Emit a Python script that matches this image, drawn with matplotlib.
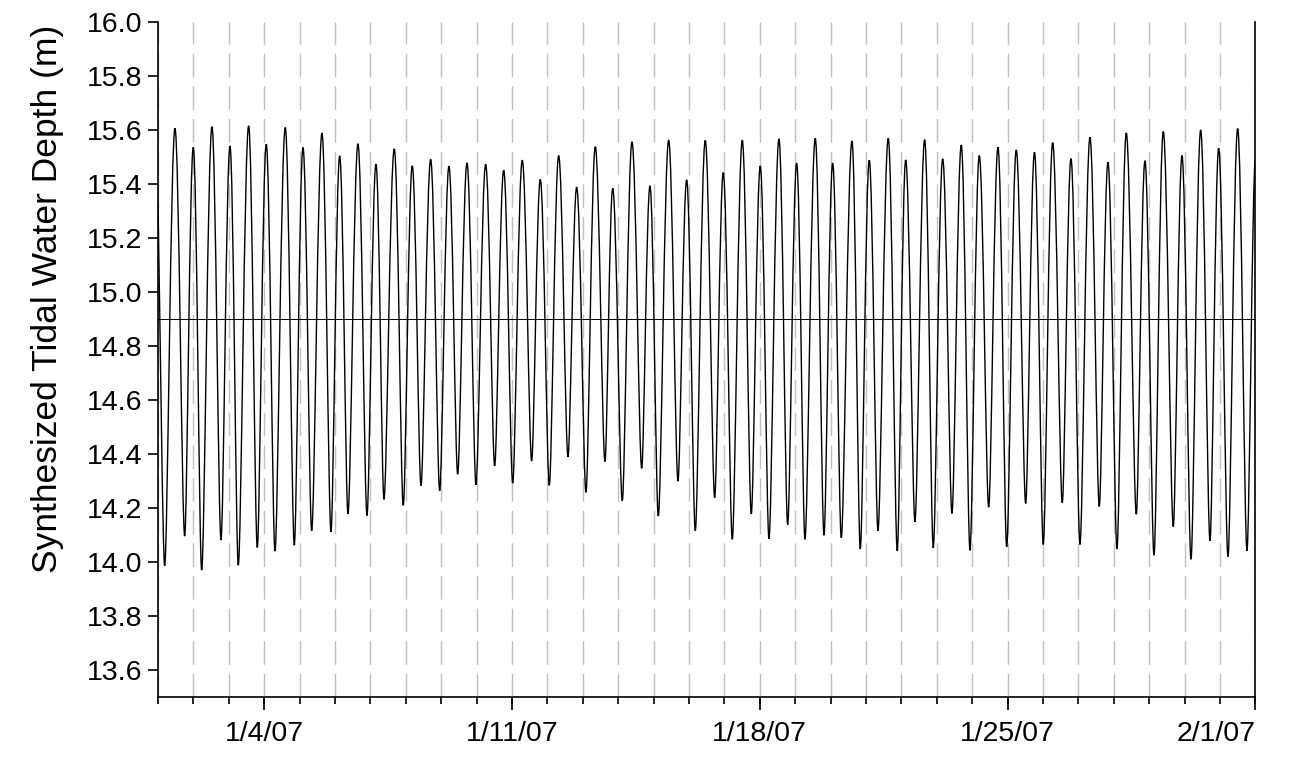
import datetime as dt
import matplotlib
matplotlib.use("Agg")
import matplotlib.pyplot as plt
import matplotlib.dates as mdates
from matplotlib.path import Path
from matplotlib.patches import PathPatch
from matplotlib.ticker import FuncFormatter, FixedLocator

plt.rcParams['font.family'] = ['Liberation Sans', 'DejaVu Sans']

# days since 1/1/07 00:00 and depth (m)
start = dt.datetime(2007, 1, 1)
n_days = 31
start_m = 15.33
end_m = 15.49
mean_depth = 14.9

peak_day = [0.480, 0.997, 1.525, 2.034, 2.562, 3.059, 3.596, 4.096, 4.633, 5.133,
            5.650, 6.158, 6.675, 7.183, 7.703, 8.220, 8.729, 9.257, 9.766, 10.291,
            10.800, 11.319, 11.828, 12.353, 12.845, 13.390, 13.898, 14.427, 14.935, 15.460,
            15.969, 16.506, 17.014, 17.542, 18.042, 18.568, 19.059, 19.605, 20.093, 20.630,
            21.122, 21.658, 22.167, 22.692, 23.201, 23.729, 24.246, 24.760, 25.274, 25.791,
            26.328, 26.836, 27.353, 27.881, 28.398, 28.927, 29.455, 29.963, 30.500]
peak_m = [15.606, 15.536, 15.612, 15.541, 15.615, 15.547, 15.609, 15.535, 15.588, 15.504,
          15.549, 15.474, 15.530, 15.467, 15.491, 15.466, 15.478, 15.473, 15.451, 15.488,
          15.417, 15.505, 15.388, 15.538, 15.384, 15.556, 15.393, 15.562, 15.415, 15.561,
          15.442, 15.562, 15.467, 15.567, 15.477, 15.569, 15.477, 15.559, 15.488, 15.569,
          15.489, 15.564, 15.493, 15.544, 15.505, 15.536, 15.526, 15.517, 15.553, 15.494,
          15.573, 15.481, 15.589, 15.486, 15.594, 15.505, 15.600, 15.532, 15.605]

trough_day = [0.189, 0.754, 1.234, 1.780, 2.268, 2.805, 3.305, 3.851, 4.342, 4.887,
              5.367, 5.904, 6.384, 6.929, 7.429, 7.958, 8.466, 8.983, 9.511, 10.020,
              10.556, 11.054, 11.582, 12.090, 12.627, 13.116, 13.664, 14.133, 14.689, 15.178,
              15.726, 16.223, 16.760, 17.260, 17.788, 18.277, 18.814, 19.302, 19.839, 20.339,
              20.884, 21.384, 21.901, 22.429, 22.938, 23.466, 23.975, 24.511, 25.008, 25.545,
              26.045, 26.590, 27.090, 27.636, 28.136, 28.681, 29.181, 29.718, 30.226, 30.763]
trough_m = [13.986, 14.096, 13.970, 14.081, 13.988, 14.054, 14.040, 14.062, 14.116, 14.112,
            14.178, 14.172, 14.232, 14.210, 14.283, 14.264, 14.325, 14.286, 14.356, 14.292,
            14.374, 14.284, 14.390, 14.258, 14.372, 14.227, 14.347, 14.170, 14.299, 14.116,
            14.238, 14.084, 14.178, 14.086, 14.138, 14.084, 14.099, 14.090, 14.048, 14.116,
            14.041, 14.149, 14.052, 14.180, 14.043, 14.203, 14.056, 14.217, 14.065, 14.219,
            14.065, 14.206, 14.048, 14.177, 14.025, 14.131, 14.010, 14.079, 14.020, 14.042]

tick_dates = [dt.datetime(2007, 1, 4), dt.datetime(2007, 1, 11), dt.datetime(2007, 1, 18),
              dt.datetime(2007, 1, 25), dt.datetime(2007, 2, 1)]
y_ticks = [13.6, 13.8, 14.0, 14.2, 14.4, 14.6, 14.8, 15.0, 15.2, 15.4, 15.6, 15.8, 16.0]

t0 = mdates.date2num(start)

# high/low waters in time order, joined by smooth bezier segments
events = [(0.0, start_m, "start")]
events += [(d, v, "peak") for d, v in zip(peak_day, peak_m)]
events += [(d, v, "trough") for d, v in zip(trough_day, trough_m)]
events += [(float(n_days), end_m, "end")]
events.sort(key=lambda e: e[0])

k = {"peak": 0.40, "trough": 0.28, "start": 0.30, "end": 0.35}
verts = [(t0 + events[0][0], events[0][1])]
codes = [Path.MOVETO]
for (d0, v0, s0), (d1, v1, s1) in zip(events[:-1], events[1:]):
    dx = d1 - d0
    c1y = v0 + 0.3 * (v1 - v0) if s0 == "start" else v0
    verts += [(t0 + d0 + k[s0] * dx, c1y), (t0 + d1 - k[s1] * dx, v1), (t0 + d1, v1)]
    codes += [Path.CURVE4] * 3

fig = plt.figure(figsize=(12.97, 7.6), dpi=100)
ax = fig.add_axes([0.1218, 0.0829, 0.8461, 0.8882])

ax.add_patch(PathPatch(Path(verts, codes), fill=False, edgecolor="black", lw=1.0, zorder=3))
ax.axhline(mean_depth, color="black", lw=0.7, zorder=2)

ax.set_xlim(t0, t0 + n_days)
ax.set_ylim(13.5, 16.0)

ax.xaxis.set_major_locator(FixedLocator([mdates.date2num(d) for d in tick_dates]))
ax.xaxis.set_minor_locator(mdates.DayLocator())
ax.xaxis.remove_overlapping_locs = False


def fmt_date(v, pos):
    d = mdates.num2date(v)
    return f"{d.month}/{d.day}/{d:%y}"


ax.xaxis.set_major_formatter(FuncFormatter(fmt_date))
ax.set_yticks(y_ticks)
ax.yaxis.set_major_formatter(FuncFormatter(lambda v, p: f"{v:.1f}"))

ax.grid(True, which="minor", axis="x", color="#c0c0c0", lw=1.0,
        linestyle=(0, (17, 6.5)), zorder=1)

ax.tick_params(axis="x", which="major", length=9, width=1.2, pad=8, labelsize=20.5)
ax.tick_params(axis="x", which="minor", length=5, width=1.2)
ax.tick_params(axis="y", length=7, width=1.2, pad=4, labelsize=20.5)

# keep the last date label inside the figure, like the original
labels = ax.get_xticklabels()
labels[-1].set_horizontalalignment("right")

for s in ["left", "bottom", "right"]:
    ax.spines[s].set_linewidth(1.2)
ax.spines["top"].set_visible(False)

ax.set_ylabel("Synthesized Tidal Water Depth (m)", fontsize=25.5)
ax.yaxis.set_label_coords(-0.086, 0.59)

fig.savefig("out.png", dpi=100)
